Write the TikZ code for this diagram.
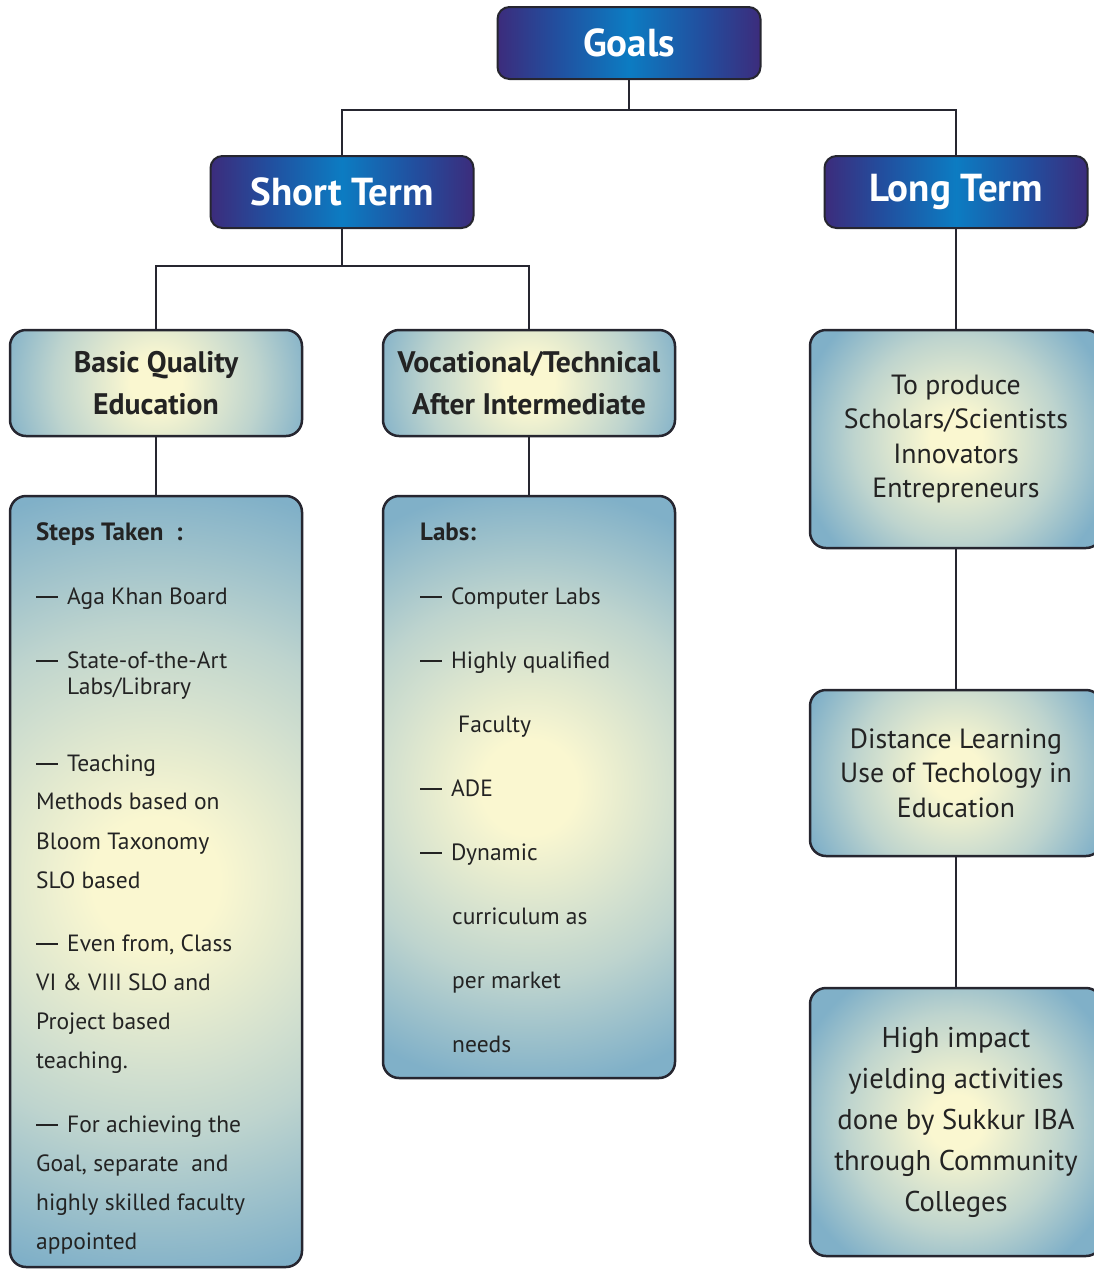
\documentclass[tikz,border=0pt]{standalone}
\usepackage{fontspec}
\setmainfont{PT Sans}
\usetikzlibrary{positioning}
\definecolor{goalpurple}{RGB}{60,44,124}
\definecolor{goalmid}{RGB}{34,78,158}
\definecolor{goalblue}{RGB}{12,124,194}
\definecolor{boxblue}{RGB}{128,176,200}
\definecolor{boxmid}{RGB}{190,212,206}
\definecolor{boxcream}{RGB}{250,247,208}
\definecolor{edgegray}{RGB}{38,38,48}
\definecolor{inkgray}{RGB}{35,35,35}
\pgfdeclarehorizontalshading{goalshade}{50bp}{color(0bp)=(goalpurple);
  color(25bp)=(goalpurple); color(36bp)=(goalmid); color(50bp)=(goalblue);
  color(64bp)=(goalmid); color(75bp)=(goalpurple); color(100bp)=(goalpurple)}
\pgfdeclareradialshading{glow}{\pgfpoint{0bp}{0bp}}{color(0bp)=(boxcream);
  color(4bp)=(boxcream); color(16bp)=(boxmid); color(25bp)=(boxblue);
  color(50bp)=(boxblue)}
\newcommand\bardash{\rule[0.27em]{22pt}{1.8pt}\hspace{9pt}}

\begin{document}
\begin{tikzpicture}[x=1pt,y=-1pt,
  darkbox/.style={draw=edgegray, line width=2pt, rounded corners=12pt,
    shading=goalshade, minimum width=263pt, minimum height=72pt, text=white,
    font=\fontsize{39}{44}\selectfont\bfseries},
  lightbox/.style={draw=edgegray, line width=2.5pt, rounded corners=16pt,
    fill=boxblue, minimum width=292pt, align=center, text=inkgray,
    path picture={\shade[shading=glow] (path picture bounding box.center) circle (#1);}},
  lightbox/.default=160pt,
  conn/.style={line width=2pt, draw=edgegray},
  head/.style={font=\fontsize{29.7}{42}\selectfont\bfseries},
  big/.style={font=\fontsize{27.8}{34.5}\selectfont},
  txt/.style={anchor=mid west, inner sep=0pt, yshift=-6pt, text=inkgray,
    font=\fontsize{23.5}{30}\selectfont},
  txthead/.style={txt, font=\fontsize{25}{30}\selectfont\bfseries},
]
\useasboundingbox (0,0) rectangle (1094,1270);

% top level
\node[darkbox] (goals) at (629,43) {Goals};
\node[darkbox] (short) at (342,192) {Short Term};
\node[darkbox] (long) at (956,192) {Long Term};

% short term branch
\node[lightbox, head, minimum height=106pt] (basic) at (156,383) {Basic Quality\\Education};
\node[lightbox, head, minimum height=106pt] (voc) at (529,383) {Vocational/Technical\\After Intermediate};
\node[lightbox=400pt, minimum height=771pt] (steps) at (156,881.5) {};
\node[lightbox=300pt, minimum height=582pt] (labs) at (529,787) {};

% long term branch
\node[lightbox, big, minimum height=218pt] (prod) at (956,439)
  {To produce\\Scholars/Scientists\\Innovators\\Entrepreneurs};
\node[lightbox, big, minimum height=166pt] (dist) at (956,773)
  {Distance Learning\\Use of Techology in\\Education};
\node[lightbox=170pt, font=\fontsize{28.6}{41}\selectfont, minimum height=268pt] (high) at (956,1122)
  {High impact\\yielding activities\\done by Sukkur IBA\\through Community\\Colleges};

% connectors
\coordinate (gj) at (629,110);
\coordinate (sj) at (342,266);
\draw[conn] (goals.south) -- (gj) -| (short.north);
\draw[conn] (gj) -| (long.north);
\draw[conn] (short.south) -- (sj) -| (basic.north);
\draw[conn] (sj) -| (voc.north);
\draw[conn] (basic.south) -- (steps.north);
\draw[conn] (voc.south) -- (labs.north);
\draw[conn] (long.south) -- (prod.north);
\draw[conn] (prod.south) -- (dist.north);
\draw[conn] (dist.south) -- (high.north);

% steps taken
\node[txthead] (stepshead) at (36,532) {Steps Taken\enspace:};
\foreach \x/\y/\t [count=\i] in {
  36/596/{\bardash Aga Khan Board},
  36/660/{\bardash State-of-the-Art},
  67/686/{Labs/Library},
  36/763/{\bardash Teaching},
  36/801/{Methods based on},
  36/841/{Bloom Taxonomy},
  36/880/{SLO based},
  36/943/{\bardash Even from, Class},
  36/982/{VI \& VIII SLO and},
  36/1021/{Project based},
  36/1060/{teaching.},
  36/1124/{\bardash For achieving the},
  36/1163/{Goal, separate\ \ and},
  36/1202/{highly skilled faculty},
  36/1241/{appointed}}
  \node[txt] (step\i) at (\x,\y) {\t};

% labs
\node[txthead] (labshead) at (420,532) {Labs:};
\foreach \x/\y/\t [count=\i] in {
  420/596/{\bardash Computer Labs},
  420/660/{\bardash Highly qualified},
  458/724/{Faculty},
  420/788/{\bardash ADE},
  420/852/{\bardash Dynamic},
  452/916/{curriculum as},
  452/980/{per market},
  452/1044/{needs}}
  \node[txt] (lab\i) at (\x,\y) {\t};
\end{tikzpicture}
\end{document}
